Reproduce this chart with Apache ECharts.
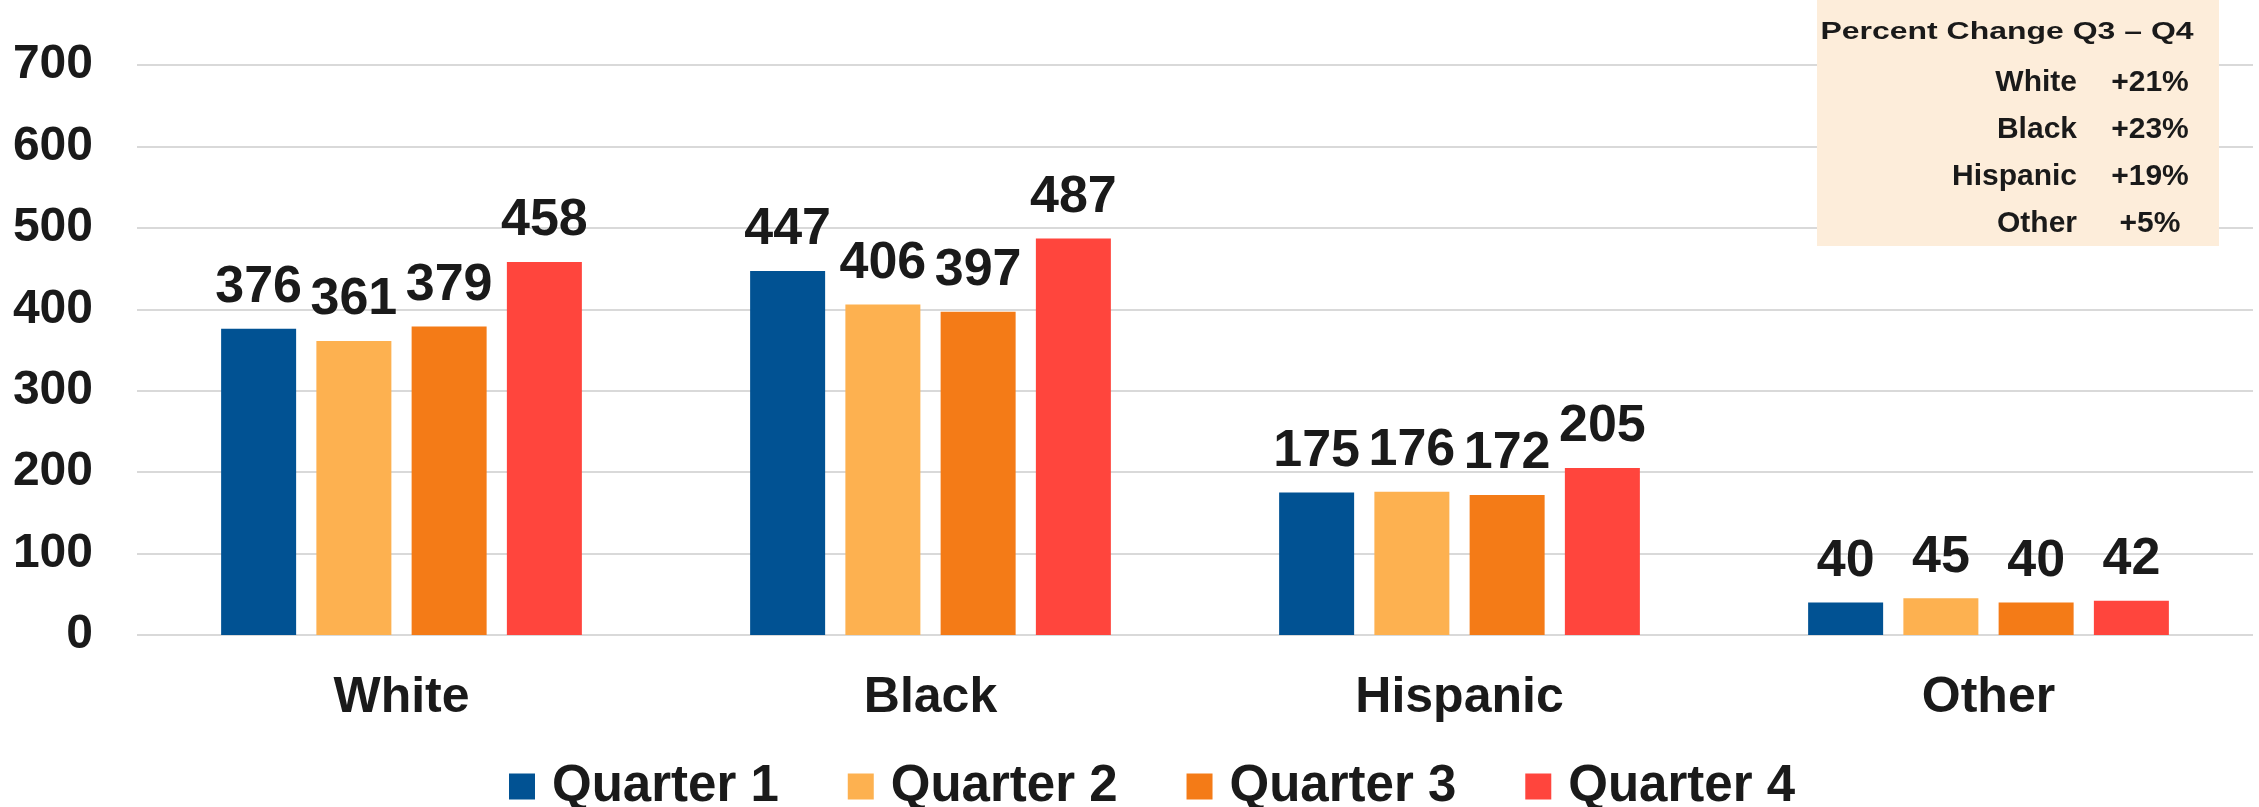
<!DOCTYPE html>
<html>
<head>
<meta charset="utf-8">
<script src="https://cdn.jsdelivr.net/npm/echarts@6/dist/echarts.min.js"></script>
<style>
html,body{margin:0;padding:0;background:#fff;}
#chart{width:2259px;height:807px;}
</style>
</head>
<body>
<div id="chart"></div>
<script>
const categories = ['White', 'Black', 'Hispanic', 'Other'];
const seriesNames = ['Quarter 1', 'Quarter 2', 'Quarter 3', 'Quarter 4'];
const q1 = [376, 447, 175, 40];
const q2 = [361, 406, 176, 45];
const q3 = [379, 397, 172, 40];
const q4 = [458, 487, 205, 42];
const colors = ['#015293', '#FDB150', '#F47B17', '#FF453D'];
const yTicks = [0, 100, 200, 300, 400, 500, 600, 700];
const tableTitle = 'Percent Change Q3 \u2013 Q4';
const tableGroups = ['White', 'Black', 'Hispanic', 'Other'];
const tablePct = ['+21%', '+23%', '+19%', '+5%'];

const FONT = '"Liberation Sans", Arial, sans-serif';
const TXT = '#1a1a1a';
const values = [q1, q2, q3, q4];

const chart = echarts.init(document.getElementById('chart'));

const tableElements = [
  { type: 'rect', z: 100, shape: { x: 1817, y: 0, width: 402, height: 246 }, style: { fill: '#FDEDDA' } },
  { type: 'text', z: 101, x: 2007, y: 33, scaleX: 1.39, originX: 0, originY: 0,
    style: { text: tableTitle, font: 'bold 23px ' + FONT, fill: TXT, align: 'center', verticalAlign: 'middle' } }
];
tableGroups.forEach((g, i) => {
  const yy = 83 + i * 47;
  tableElements.push({ type: 'text', z: 101, x: 2077, y: yy,
    style: { text: g, font: 'bold 30px ' + FONT, fill: TXT, align: 'right', verticalAlign: 'middle' } });
  tableElements.push({ type: 'text', z: 101, x: 2150, y: yy,
    style: { text: tablePct[i], font: 'bold 30px ' + FONT, fill: TXT, align: 'center', verticalAlign: 'middle' } });
});

const option = {
  animation: false,
  backgroundColor: '#fff',
  grid: { left: 137, right: 6, top: 65, bottom: 172, containLabel: false },
  legend: {
    data: seriesNames,
    left: 504,
    top: 756,
    icon: 'rect',
    itemWidth: 26,
    itemHeight: 26,
    itemGap: 69,
    textStyle: { fontFamily: FONT, fontWeight: 'bold', fontSize: 51, color: TXT, padding: [0, 0, 0, 12] }
  },
  xAxis: {
    type: 'category',
    data: categories,
    axisLine: { show: false },
    axisTick: { show: false },
    axisLabel: { fontFamily: FONT, fontWeight: 'bold', fontSize: 50, color: TXT, margin: 38 }
  },
  yAxis: {
    type: 'value',
    min: yTicks[0],
    max: yTicks[yTicks.length - 1],
    interval: 100,
    axisLine: { show: false },
    axisTick: { show: false },
    splitLine: { lineStyle: { color: '#D9D9D9', width: 2 } },
    axisLabel: { fontFamily: FONT, fontWeight: 'bold', fontSize: 48, color: TXT, margin: 44 }
  },
  series: seriesNames.map((name, i) => ({
    name: name,
    type: 'bar',
    data: values[i],
    barWidth: 75,
    barGap: '27%',
    itemStyle: { color: colors[i] },
    label: {
      show: true,
      position: 'top',
      distance: 15,
      fontFamily: FONT,
      fontWeight: 'bold',
      fontSize: 52,
      color: TXT
    }
  })),
  graphic: { elements: tableElements }
};
chart.setOption(option);
</script>
</body>
</html>
